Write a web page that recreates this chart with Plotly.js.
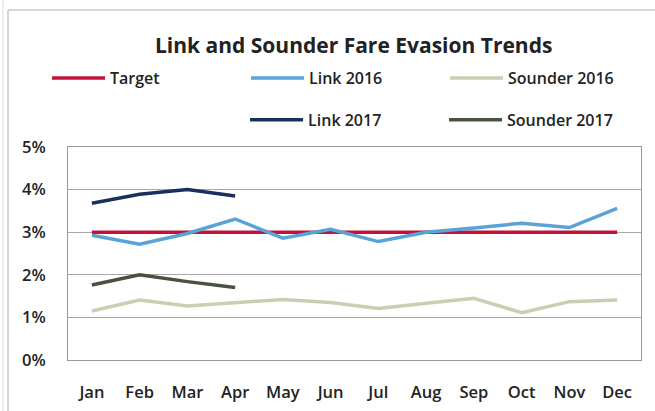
<!DOCTYPE html>
<html>
<head>
<meta charset="utf-8">
<script src="https://cdn.plot.ly/plotly-3.0.1.min.js"></script>
<style>html,body{margin:0;padding:0;background:#fff;}#chart{width:655px;height:411px;}</style>
</head>
<body>
<div id="chart"></div>
<script>
const months = ["Jan","Feb","Mar","Apr","May","Jun","Jul","Aug","Sep","Oct","Nov","Dec"];
const target = [3.0,3.0,3.0,3.0,3.0,3.0,3.0,3.0,3.0,3.0,3.0,3.0];
const link2016 = [2.93,2.72,2.97,3.31,2.86,3.07,2.78,3.0,3.1,3.21,3.11,3.56];
const sounder2016 = [1.15,1.41,1.27,1.35,1.42,1.35,1.21,1.33,1.45,1.11,1.37,1.41];
const link2017 = [3.68,3.89,4.0,3.85];
const sounder2017 = [1.76,2.0,1.84,1.70];
const yTicks = [0,1,2,3,4,5];
const yTickText = ["0%","1%","2%","3%","4%","5%"];

const font = "Open Sans, Liberation Sans, sans-serif";
function tr(name, y, color, legend) {
  return {type:'scatter', mode:'lines', name:name, x:months.slice(0,y.length), y:y,
    line:{color:color, width:3.5}, legend:legend, hoverinfo:'skip'};
}
const data = [
  tr('Target', target, '#C0123A', 'legend'),
  tr('Link 2016', link2016, '#5AA3D8', 'legend'),
  tr('Sounder 2016', sounder2016, '#C9CFB3', 'legend'),
  tr('Link 2017', link2017, '#17305C', 'legend2'),
  tr('Sounder 2017', sounder2017, '#485240', 'legend2')
];
const legFont = {family:font, size:16, color:'#222', weight:600};
const tickFont = {family:font, size:16.5, color:'#222', weight:600};
const layout = {
  width:655, height:411,
  margin:{l:68, r:14, t:147, b:51},
  paper_bgcolor:'#fff', plot_bgcolor:'#fff',
  title:{text:'Link and Sounder Fare Evasion Trends', x:0.54, xanchor:'center', y:0.888, yanchor:'middle',
    font:{family:font, size:21, color:'#222', weight:700}},
  xaxis:{type:'category', range:[-0.5,11.5], showgrid:false, showline:true, mirror:true, linecolor:'#9a9a9a', linewidth:1,
    ticks:'', ticklabelstandoff:17, tickfont:tickFont, zeroline:false, fixedrange:true},
  yaxis:{range:[0,5], tickvals:yTicks, ticktext:yTickText, showgrid:true, gridcolor:'#a8a8a8', gridwidth:1,
    showline:true, mirror:true, linecolor:'#9a9a9a', linewidth:1, ticks:'', ticklabelstandoff:18,
    tickfont:tickFont, zeroline:false, fixedrange:true},
  showlegend:true,
  legend:{orientation:'h', x:-0.0366, xanchor:'left', y:1.324, yanchor:'middle', entrywidth:131, entrywidthmode:'pixels',
    font:legFont, bgcolor:'rgba(0,0,0,0)', itemwidth:53, traceorder:'normal'},
  legend2:{orientation:'h', x:0.309, xanchor:'left', y:1.127, yanchor:'middle', entrywidth:131, entrywidthmode:'pixels',
    font:legFont, bgcolor:'rgba(0,0,0,0)', itemwidth:53, traceorder:'normal'},
  shapes:[
    {type:'line', xref:'paper', yref:'paper', x0:-0.1047, x1:1.03, y0:1.643, y1:1.643, line:{color:'#c8c8c8', width:1.5}},
    {type:'line', xref:'paper', yref:'paper', x0:-0.1047, x1:-0.1047, y0:1.643, y1:-0.25, line:{color:'#c8c8c8', width:1.5}},
    {type:'line', xref:'paper', yref:'paper', x0:-0.1134, x1:-0.1134, y0:1.7, y1:-0.25, line:{color:'#dddddd', width:1}}
  ]
};
Plotly.newPlot('chart', data, layout, {displayModeBar:false, staticPlot:true});
</script>
</body>
</html>
